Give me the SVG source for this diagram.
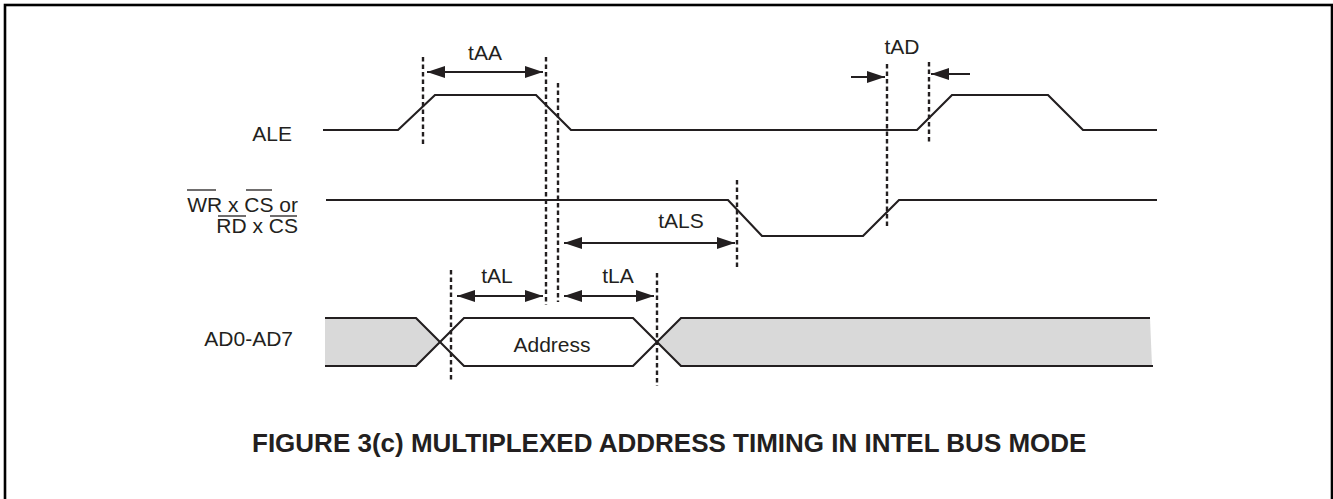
<svg xmlns="http://www.w3.org/2000/svg" width="1333" height="499" viewBox="0 0 1333 499">
<style>
.sig{fill:none;stroke:#231f20;stroke-width:2.2;stroke-linejoin:miter}
.dash{fill:none;stroke:#231f20;stroke-width:2.4;stroke-dasharray:4.5 3}
.arr{fill:none;stroke:#231f20;stroke-width:2.2}
.lbl{font-family:"Liberation Sans",Arial,sans-serif;font-size:21px;fill:#231f20}
.ov{stroke:#231f20;stroke-width:1.3}
.title{font-family:"Liberation Sans",Arial,sans-serif;font-size:26px;font-weight:bold;fill:#231f20}
</style>
<defs>
<marker id="ah" viewBox="0 0 18 12" refX="18" refY="6" markerWidth="18" markerHeight="12" markerUnits="userSpaceOnUse" orient="auto-start-reverse">
<path d="M0,0 L18,6 L0,12 Z" fill="#231f20"/>
</marker>
</defs>
<rect x="0" y="0" width="1333" height="499" fill="#ffffff"/>
<rect id="frame" x="5" y="5" width="1327" height="520" fill="none" stroke="#000" stroke-width="2.6"/>

<g id="ALE">
<text class="lbl" x="292" y="141" text-anchor="end">ALE</text>
<polyline class="sig" points="323,130 398,130 435,95 536,95 571,130 917,130 952,95 1048,95 1083,130 1157,130"/>
</g>

<g id="WRCS">
<text class="lbl" x="298" y="212" text-anchor="end">WR x CS or</text>
<text class="lbl" x="298" y="233" text-anchor="end">RD x CS</text>
<line class="ov" x1="187" y1="190" x2="216" y2="190"/>
<line class="ov" x1="246" y1="190" x2="272" y2="190"/>
<line class="ov" x1="218" y1="216" x2="246" y2="216"/>
<line class="ov" x1="270" y1="216" x2="297" y2="216"/>
<polyline class="sig" points="326,200 728,200 762,236 863,236 899,200 1157,200"/>
</g>

<g id="AD">
<text class="lbl" x="293" y="346" text-anchor="end">AD0-AD7</text>
<polygon points="325,318 416,318 440,342 416,366 325,366" fill="#d9d9d9"/>
<polygon points="681,318 1150,318 1152,366 681,366 657,342" fill="#d9d9d9"/>
<polyline class="sig" points="325,318 416,318 464,366 633,366 681,318 1150,318"/>
<polyline class="sig" points="325,366 416,366 464,318 633,318 681,366 1153,366"/>
<text class="lbl" x="552" y="352" text-anchor="middle">Address</text>
</g>

<g id="connectors">
<line class="dash" x1="423" y1="57" x2="423" y2="147"/>
<line class="dash" x1="546" y1="57" x2="546" y2="305"/>
<line class="dash" x1="558" y1="83" x2="558" y2="302"/>
<line class="dash" x1="887" y1="64" x2="887" y2="226"/>
<line class="dash" x1="929" y1="62" x2="929" y2="142"/>
<line class="dash" x1="737" y1="180" x2="737" y2="268"/>
<line class="dash" x1="451" y1="270" x2="451" y2="382"/>
<line class="dash" x1="657" y1="273" x2="657" y2="386"/>

<line class="arr" x1="427" y1="72" x2="543" y2="72" marker-start="url(#ah)" marker-end="url(#ah)"/>
<line class="arr" x1="851" y1="77" x2="885" y2="77" marker-end="url(#ah)"/>
<line class="arr" x1="970" y1="74" x2="931" y2="74" marker-end="url(#ah)"/>
<line class="arr" x1="564" y1="243" x2="735" y2="243" marker-start="url(#ah)" marker-end="url(#ah)"/>
<line class="arr" x1="457" y1="296" x2="543" y2="296" marker-start="url(#ah)" marker-end="url(#ah)"/>
<line class="arr" x1="564" y1="296" x2="654" y2="296" marker-start="url(#ah)" marker-end="url(#ah)"/>
</g>

<g id="timing-labels">
<text class="lbl" x="485" y="60" text-anchor="middle">tAA</text>
<text class="lbl" x="902" y="54" text-anchor="middle">tAD</text>
<text class="lbl" x="681" y="228" text-anchor="middle">tALS</text>
<text class="lbl" x="497" y="283" text-anchor="middle">tAL</text>
<text class="lbl" x="618" y="283" text-anchor="middle">tLA</text>
</g>

<text class="title" x="252" y="452">FIGURE 3(c) MULTIPLEXED ADDRESS TIMING IN INTEL BUS MODE</text>
</svg>
